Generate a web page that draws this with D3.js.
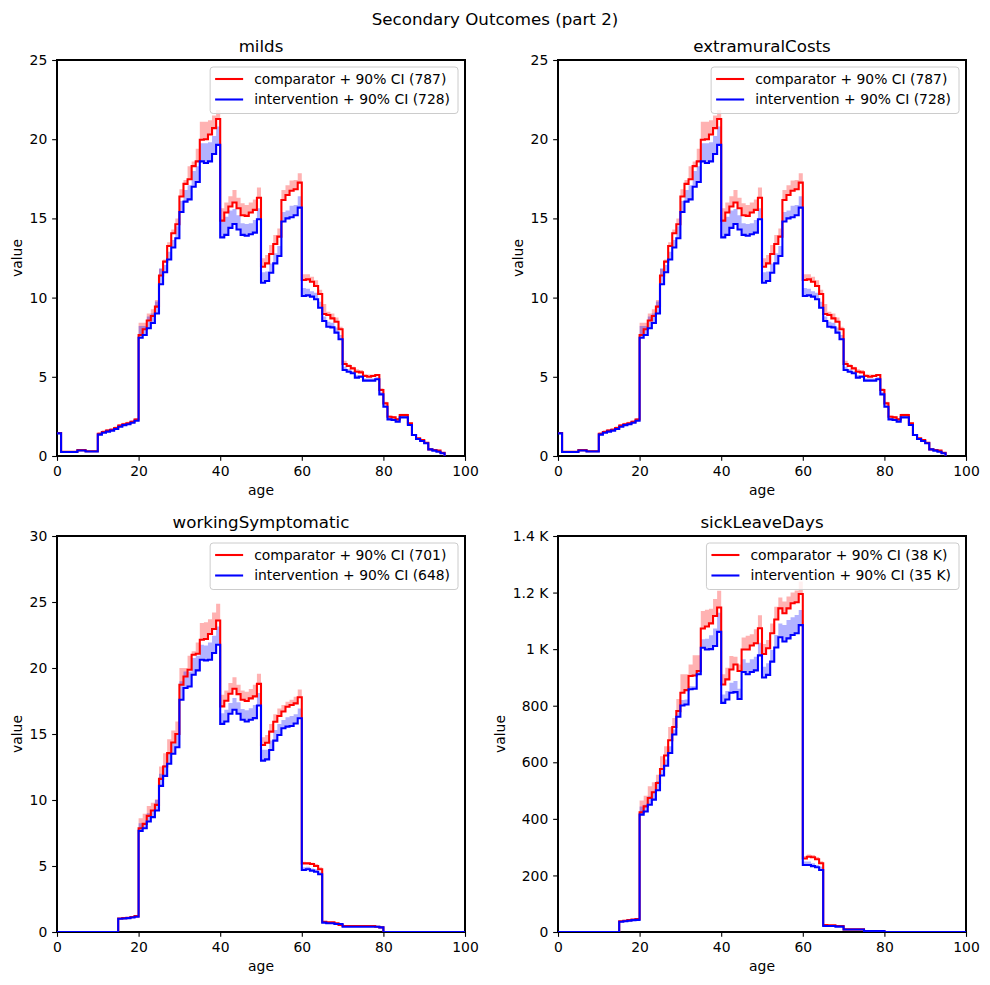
<!DOCTYPE html>
<html><head><meta charset="utf-8">
<script src="https://cdn.jsdelivr.net/npm/d3@7"></script>
<style>body{margin:0;background:#fff} text{font-family:"DejaVu Sans",sans-serif;fill:#000}</style>
</head><body><svg id="c" width="990" height="985" xmlns="http://www.w3.org/2000/svg"></svg>
<script>
// ---------- DATA ----------
const suptitle = "Secondary Outcomes (part 2)";
const xTicks = [0, 20, 40, 60, 80, 100];

// milds (ages 0..95)
const mildsComparator = [1.45,0.27,0.27,0.27,0.27,0.37,0.37,0.3,0.3,0.3,
1.4,1.52,1.6,1.66,1.76,1.92,2.0,2.06,2.16,2.3,
7.64,8.0,8.55,8.84,9.43,11.39,12.27,13.26,14.06,14.63,
16.38,17.18,17.47,18.3,18.6,19.96,20.0,20.3,20.7,21.28,
14.86,15.37,15.75,16.0,15.64,15.2,15.16,15.37,15.54,16.3,
11.95,12.16,12.75,13.38,13.85,16.16,16.48,16.75,16.84,17.26,
11.11,11.15,11.0,10.73,10.23,8.96,8.9,8.69,8.48,8.0,
5.81,5.68,5.53,5.32,5.28,5.05,5.0,5.05,5.11,4.17,
3.32,2.48,2.44,2.31,2.59,2.59,2.06,1.33,1.12,1.01,
0.84,0.42,0.38,0.34,0.21,0.0];
const mildsComparatorHi = [1.5,0.32,0.32,0.32,0.32,0.42,0.42,0.35,0.35,0.35,
1.5,1.62,1.7,1.76,1.86,2.02,2.1,2.16,2.26,2.4,
8.42,8.42,9.0,9.26,9.85,11.8,12.4,13.5,14.3,15.0,
16.84,17.43,18.3,18.6,19.4,21.1,21.1,21.2,21.5,21.85,
15.64,16.0,16.4,16.8,16.3,15.96,15.85,16.0,16.2,16.95,
12.48,12.69,13.32,13.95,14.37,16.8,17.1,17.4,17.42,17.85,
11.47,11.47,11.32,11.1,10.5,9.6,9.1,9.0,8.75,8.16,
6.02,5.8,5.64,5.47,5.43,5.18,5.15,5.15,5.18,4.27,
3.43,2.56,2.52,2.4,2.66,2.66,2.12,1.38,1.17,1.05,
0.88,0.45,0.41,0.37,0.23,0.0];
const mildsIntervention = [1.43,0.25,0.25,0.25,0.25,0.35,0.35,0.28,0.28,0.28,
1.35,1.47,1.54,1.6,1.7,1.85,1.95,2.0,2.1,2.23,
7.47,7.64,8.06,8.4,9.0,10.84,11.6,12.4,13.16,13.75,
15.4,16.06,16.2,17.0,17.3,18.6,18.5,18.6,19.07,19.64,
13.8,13.96,14.4,14.65,14.3,13.96,13.9,14.0,14.1,14.95,
10.94,11.05,11.57,12.16,12.63,14.8,15.0,15.07,15.2,15.68,
10.1,10.14,10.06,9.9,9.36,8.52,8.16,8.12,7.79,7.37,
5.43,5.32,5.22,4.95,5.0,4.76,4.76,4.76,4.84,3.89,
3.11,2.31,2.27,2.17,2.44,2.44,1.96,1.33,1.07,0.95,
0.8,0.42,0.34,0.27,0.17,0.0];
const mildsInterventionHi = [1.48,0.3,0.3,0.3,0.3,0.4,0.4,0.33,0.33,0.33,
1.45,1.57,1.65,1.71,1.81,1.97,2.05,2.11,2.21,2.35,
8.2,8.2,8.8,9.0,9.75,11.85,12.06,12.9,13.64,14.5,
16.1,16.8,17.1,18.0,18.3,19.75,19.75,19.8,20.2,20.8,
14.9,15.1,15.5,15.6,15.2,14.7,14.65,14.7,14.9,15.64,
11.6,11.65,12.16,12.8,13.26,15.4,15.5,15.8,15.85,16.4,
10.6,10.56,10.4,10.3,9.74,8.8,8.48,8.42,8.12,7.64,
5.64,5.47,5.37,5.11,5.12,4.9,4.9,4.9,4.97,4.06,
3.22,2.4,2.36,2.26,2.52,2.52,2.04,1.38,1.12,1.0,
0.84,0.46,0.38,0.31,0.2,0.0];

// extramuralCosts (ages 0..95) - same curve as milds in the reference
const extramuralComparator = mildsComparator;
const extramuralComparatorHi = mildsComparatorHi;
const extramuralIntervention = mildsIntervention;
const extramuralInterventionHi = mildsInterventionHi;

// workingSymptomatic (ages 0..100)
const workingComparator = [0,0,0,0,0,0,0,0,0,0,0,0,0,0,0,
1.02,1.05,1.08,1.13,1.2,
7.86,8.19,8.8,9.2,9.63,11.6,12.54,13.55,14.36,15.0,
18.73,19.36,19.87,21.0,21.08,22.14,22.2,22.57,22.95,23.6,
17.09,17.52,18.05,18.43,18.02,17.6,17.5,17.7,17.85,18.8,
14.17,14.34,15.18,15.93,16.36,16.7,17.07,17.2,17.32,17.78,
5.2,5.2,5.15,5.0,4.75,0.78,0.73,0.73,0.66,0.53,
0.45,0.45,0.45,0.45,0.45,0.45,0.45,0.45,0.4,0.35,
0,0,0,0,0,0,0,0,0,0,0,0,0,0,0,0,0,0,0,0,0];
const workingComparatorHi = [0,0,0,0,0,0,0,0,0,0,0,0,0,0,0,
1.07,1.1,1.13,1.18,1.25,
8.62,8.95,9.55,9.8,10.06,12.54,13.55,14.6,15.27,15.95,
20.0,20.0,20.93,21.26,21.94,23.4,23.46,23.7,24.2,24.87,
17.97,18.3,18.86,19.3,18.73,18.3,18.2,18.4,18.73,19.57,
14.75,14.92,15.76,16.5,16.94,17.2,17.45,17.6,17.83,18.38,
5.33,5.28,5.25,5.15,4.9,0.82,0.77,0.77,0.7,0.57,
0.48,0.48,0.48,0.48,0.48,0.48,0.48,0.48,0.43,0.38,
0,0,0,0,0,0,0,0,0,0,0,0,0,0,0,0,0,0,0,0,0];
const workingIntervention = [0,0,0,0,0,0,0,0,0,0,0,0,0,0,0,
1.0,1.02,1.05,1.1,1.16,
7.66,7.86,8.37,8.7,9.2,11.07,11.83,12.74,13.5,14.0,
17.6,18.48,18.6,19.49,19.82,20.63,20.58,20.63,21.13,21.76,
15.77,15.95,16.53,16.84,16.53,16.08,15.95,16.08,16.2,17.16,
12.98,13.08,13.79,14.5,14.92,15.43,15.56,15.6,15.8,16.19,
4.7,4.75,4.65,4.57,4.37,0.71,0.66,0.66,0.6,0.6,
0.4,0.4,0.4,0.4,0.4,0.4,0.4,0.4,0.4,0.35,
0,0,0,0,0,0,0,0,0,0,0,0,0,0,0,0,0,0,0,0,0];
const workingInterventionHi = [0,0,0,0,0,0,0,0,0,0,0,0,0,0,0,
1.05,1.07,1.1,1.15,1.21,
8.24,8.24,9.0,9.25,10.0,11.98,12.66,13.55,14.3,15.07,
19.0,19.74,19.74,20.75,20.93,21.76,21.7,21.94,22.45,23.15,
16.58,16.84,17.34,17.72,17.4,16.9,16.8,16.96,17.2,18.1,
13.8,13.8,14.5,15.3,15.76,16.06,16.26,16.36,16.5,16.94,
4.9,4.95,4.82,4.75,4.57,0.75,0.7,0.7,0.64,0.64,
0.43,0.43,0.43,0.43,0.43,0.43,0.43,0.43,0.43,0.38,
0,0,0,0,0,0,0,0,0,0,0,0,0,0,0,0,0,0,0,0,0];

// sickLeaveDays (ages 0..100)
const sickComparator = [0,0,0,0,0,0,0,0,0,0,0,0,0,0,0,
38,40,42,44,46,
423,444,474,494,527,576,624,678,725,781,
846,855,905,907,923,1073,1080,1091,1117,1147,
875,893,928,946,923,999,999,1013,1021,1074,
983,1003,1056,1105,1144,1127,1144,1162,1166,1195,
260,266,264,257,243,25,24,24,21,21,
9.4,9.4,9.4,9.4,9.4,3.5,3.5,3.5,3.5,3.5,
0,0,0,0,0,0,0,0,0,0,0,0,0,0,0,0,0,0,0,0,0];
const sickComparatorHi = [0,0,0,0,0,0,0,0,0,0,0,0,0,0,0,
41,43,45,47,49,
465,482,515,529,556,621,657,725,757,824,
911,911,946,978,978,1135,1139,1143,1177,1206,
911,934,976,973,946,1041,1047,1053,1070,1120,
1018,1032,1091,1150,1183,1168,1186,1200,1207,1239,
269,274,272,265,250,27,26,26,23,23,
10.5,10.5,10.5,10.5,10.5,4,4,4,4,4,
0,0,0,0,0,0,0,0,0,0,0,0,0,0,0,0,0,0,0,0,0];
const sickIntervention = [0,0,0,0,0,0,0,0,0,0,0,0,0,0,0,
36,38,40,42,43,
415,426,450,468,501,553,588,633,698,761,
801,804,858,860,911,1005,999,1000,1011,1061,
810,822,846,848,824,919,911,919,925,978,
900,909,956,1006,1042,1027,1038,1050,1056,1085,
237,237,233,229,219,21,21,21,19,19,
9,9,9,9,9,3,3,3,3,3,
0,0,0,0,0,0,0,0,0,0,0,0,0,0,0,0,0,0,0,0,0];
const sickInterventionHi = [0,0,0,0,0,0,0,0,0,0,0,0,0,0,0,
39,41,43,45,46,
444,450,480,497,533,574,610,657,716,775,
820,822,869,869,923,1035,1037,1049,1073,1129,
840,852,881,887,860,964,952,964,973,1023,
938,950,997,1050,1091,1085,1103,1113,1121,1138,
249,249,243,237,231,23,23,23,21,21,
10,10,10,10,10,3.5,3.5,3.5,3.5,3.5,
0,0,0,0,0,0,0,0,0,0,0,0,0,0,0,0,0,0,0,0,0];

const yTicksSmall = [0, 5, 10, 15, 20, 25];
const yTicksWork = [0, 5, 10, 15, 20, 25, 30];
const yTicksSick = [0, 200, 400, 600, 800, 1000, 1200, 1400];
const yTickLabelsSick = ["0", "200", "400", "600", "800", "1 K", "1.2 K", "1.4 K"];

// ---------- LAYOUT ----------
const panels = [
  {title:"milds", left:57, top:60, yMax:25, yTicks:yTicksSmall, yLabels:null,
   comp:mildsComparator, compHi:mildsComparatorHi, intv:mildsIntervention, intvHi:mildsInterventionHi,
   legend:["comparator + 90% CI (787)", "intervention + 90% CI (728)"]},
  {title:"extramuralCosts", left:558, top:60, yMax:25, yTicks:yTicksSmall, yLabels:null,
   comp:extramuralComparator, compHi:extramuralComparatorHi, intv:extramuralIntervention, intvHi:extramuralInterventionHi,
   legend:["comparator + 90% CI (787)", "intervention + 90% CI (728)"]},
  {title:"workingSymptomatic", left:57, top:536, yMax:30, yTicks:yTicksWork, yLabels:null,
   comp:workingComparator, compHi:workingComparatorHi, intv:workingIntervention, intvHi:workingInterventionHi,
   legend:["comparator + 90% CI (701)", "intervention + 90% CI (648)"]},
  {title:"sickLeaveDays", left:558, top:536, yMax:1400, yTicks:yTicksSick, yLabels:yTickLabelsSick,
   comp:sickComparator, compHi:sickComparatorHi, intv:sickIntervention, intvHi:sickInterventionHi,
   legend:["comparator + 90% CI (38 K)", "intervention + 90% CI (35 K)"]}
];
const W = 408, H = 396;
const FS = 13.9, TFS = 16.67;
const svg = d3.select("#c");

svg.append("text").attr("x", 495).attr("y", 24.5).attr("text-anchor", "middle")
  .style("font-size", TFS + "px").text(suptitle);

panels.forEach((p, pi) => {
  const g = svg.append("g").attr("transform", `translate(${p.left},${p.top})`);
  const x = d3.scaleLinear().domain([0, 100]).range([0, W]);
  const y = d3.scaleLinear().domain([0, p.yMax]).range([H, 0]);
  const clipId = "clip" + pi;
  g.append("clipPath").attr("id", clipId).append("rect").attr("width", W).attr("height", H);

  // frame first, marks drawn inside over it
  g.append("rect").attr("width", W).attr("height", H).attr("fill", "none")
    .attr("stroke", "#000").attr("stroke-width", 1.1).attr("shape-rendering", "crispEdges");

  const plot = g.append("g").attr("clip-path", `url(#${clipId})`);

  const mk = (lo, hi) => lo.map((v, i) => ({age: i, lo: v, hi: hi[i]}));
  const area = d3.area().curve(d3.curveStepAfter).x(d => x(d.age)).y0(d => y(d.lo)).y1(d => y(d.hi));
  const line = d3.line().curve(d3.curveStepAfter).x(d => x(d.age)).y(d => y(d.lo));
  const cd = mk(p.comp, p.compHi), id = mk(p.intv, p.intvHi);

  plot.append("path").attr("d", area(cd)).attr("fill", "#ff0000").attr("fill-opacity", 0.3);
  plot.append("path").attr("d", area(id)).attr("fill", "#0000ff").attr("fill-opacity", 0.3);
  plot.append("path").attr("d", line(cd)).attr("fill", "none").attr("stroke", "#ff0000").attr("stroke-width", 2.08);
  plot.append("path").attr("d", line(id)).attr("fill", "none").attr("stroke", "#0000ff").attr("stroke-width", 2.08);

  // axes
  const xAxis = d3.axisBottom(x).tickValues(xTicks).tickSize(4.86).tickPadding(4.86).tickFormat(d3.format("d"));
  const yAxis = d3.axisLeft(y).tickValues(p.yTicks).tickSize(4.86).tickPadding(4.86)
    .tickFormat((d, i) => p.yLabels ? p.yLabels[i] : String(d));
  const gx = g.append("g").attr("transform", `translate(0,${H})`).call(xAxis);
  const gy = g.append("g").call(yAxis);
  [gx, gy].forEach(a => {
    a.select(".domain").remove();
    a.selectAll(".tick line").attr("stroke", "#000").attr("stroke-width", 1.1);
    a.selectAll(".tick text").attr("fill", "#000").style("font-size", FS + "px").style("font-family", '"DejaVu Sans",sans-serif');
  });
  gx.selectAll(".tick text").attr("dy", null).attr("y", 19.8);
  gy.selectAll(".tick text").attr("dy", "0.33em");

  // title
  g.append("text").attr("x", W / 2).attr("y", -8).attr("text-anchor", "middle")
    .style("font-size", TFS + "px").text(p.title);

  // axis labels
  g.append("text").attr("x", W / 2).attr("y", H + 39).attr("text-anchor", "middle")
    .style("font-size", FS + "px").text("age");
  let maxW = 0;
  gy.selectAll(".tick text").each(function(){ maxW = Math.max(maxW, this.getComputedTextLength()); });
  const lx = -4.86 - 4.86 - maxW - 5.6 - 7;
  g.append("text").attr("transform", `translate(${lx},${H / 2}) rotate(-90)`).attr("text-anchor", "middle")
    .attr("dy", "0.35em").style("font-size", FS + "px").text("value");

  // legend
  const lg = g.append("g");
  const box = lg.append("rect").attr("rx", 3).attr("ry", 3).attr("fill", "#fff").attr("fill-opacity", 0.8)
    .attr("stroke", "#cccccc").attr("stroke-width", 1);
  const colors = ["#ff0000", "#0000ff"];
  let tw = 0;
  const texts = p.legend.map((t, i) => {
    const tt = lg.append("text").attr("y", 19 + i * 20.5).attr("dy", "0.35em").style("font-size", FS + "px").text(t);
    tw = Math.max(tw, tt.node().getComputedTextLength());
    return tt;
  });
  const bw = tw + 5 + 28 + 11 + 8;
  const bx = W - 7 - bw;
  box.attr("x", bx).attr("y", 7).attr("width", bw).attr("height", 46.5);
  p.legend.forEach((t, i) => {
    lg.append("line").attr("x1", bx + 5).attr("x2", bx + 33).attr("y1", 19 + i * 20.5).attr("y2", 19 + i * 20.5)
      .attr("stroke", colors[i]).attr("stroke-width", 2.08);
    texts[i].attr("x", bx + 44);
  });
});
</script></body></html>
